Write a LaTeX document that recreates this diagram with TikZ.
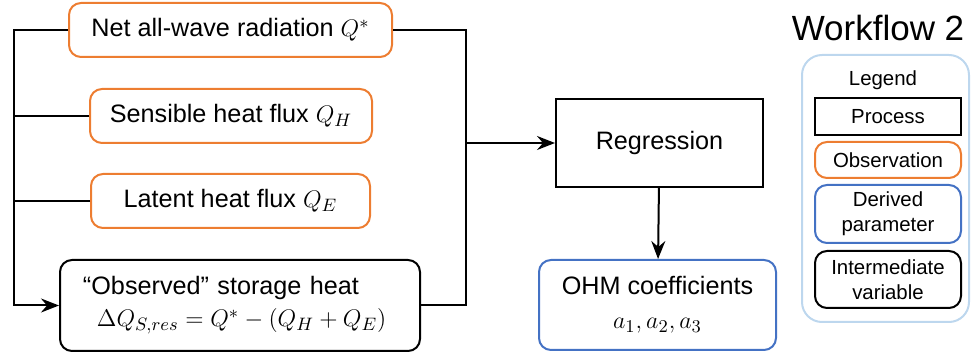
\documentclass[tikz,border=0pt]{standalone}
\usepackage{fontspec}
\setmainfont{Liberation Sans}
\usetikzlibrary{arrows.meta}
\definecolor{obsorange}{HTML}{ED7D31}
\definecolor{derblue}{HTML}{4472C4}
\definecolor{legblue}{HTML}{BDD7EE}
\tikzset{
  box/.style={draw, line width=1pt, inner sep=0pt, align=center},
  obsbox/.style={box, obsorange, text=black, rounded corners=6pt},
  procbox/.style={box, black},
  derbox/.style={box, derblue, text=black, rounded corners=6pt},
  varbox/.style={box, black, rounded corners=6pt},
  conn/.style={line width=1pt},
  arr/.style={conn, -{Stealth[length=9pt, width=7pt, inset=3pt]}},
}
\begin{document}
\begin{tikzpicture}[x=0.5pt, y=-0.5pt, font=\fontsize{12.6}{15}\selectfont]
  \useasboundingbox (0,0) rectangle (971,353);

  %observations
  \node[obsbox, minimum width=161.5pt, minimum height=27pt] (net) at (230.5,30) {Net all-wave radiation $Q^{*}$};
  \node[obsbox, minimum width=141pt, minimum height=27pt] (sens) at (231,116) {Sensible heat flux $Q_H$};
  \node[obsbox, minimum width=139.5pt, minimum height=27pt] (lat) at (230.5,201) {Latent heat flux $Q_E$};

  %intermediate variable
  \node[varbox, align=left, text width=157pt, inner xsep=11.5pt, minimum height=45.5pt] (obs) at (240,305.5)
    {``Observed'' storage heat\\[1pt] \hspace{7pt}$\Delta Q_{S,res} = Q^{*} - (Q_H + Q_E)$};

  %process and result
  \node[procbox, minimum width=103.5pt, minimum height=44pt] (regr) at (659.5,143) {Regression};
  \node[derbox, minimum width=118.5pt, minimum height=45pt] (ohm) at (657.5,305)
    {OHM coefficients\\[2pt] $a_1, a_2, a_3$};

  %connectors
  \coordinate (lbus) at (14,305.5);
  \coordinate (rbus) at (466,143);
  \draw[arr] (net.west) -| (lbus) -- (obs.west);
  \draw[conn] (sens.west) -- (sens.west -| lbus);
  \draw[conn] (lat.west) -- (lat.west -| lbus);
  \draw[conn] (net.east) -| (rbus);
  \draw[conn] (obs.east) -| (rbus);
  \draw[arr] (rbus) -- (regr.west);
  \draw[arr] (regr) -- (ohm);

  %legend
  \node[font=\fontsize{17.5}{20}\selectfont] (title) at (878,28) {Workflow 2};
  \draw[legblue, line width=1pt, rounded corners=10pt] (802,55) rectangle (969,322);
  \node[font=\fontsize{10.2}{12}\selectfont] (legend) at (883,80) {Legend};
  \begin{scope}[font=\fontsize{10.2}{12.5}\selectfont]
    \node[procbox, minimum width=73pt, minimum height=18.5pt] (lgproc) at (888,116.5) {Process};
    \node[obsbox, minimum width=73pt, minimum height=18pt] (lgobs) at (888,160) {Observation};
    \node[derbox, minimum width=73pt, minimum height=29pt] (lgder) at (888,214) {Derived\\parameter};
    \node[varbox, minimum width=73pt, minimum height=28.5pt] (lgint) at (888,279.5) {Intermediate\\variable};
  \end{scope}
\end{tikzpicture}
\end{document}
